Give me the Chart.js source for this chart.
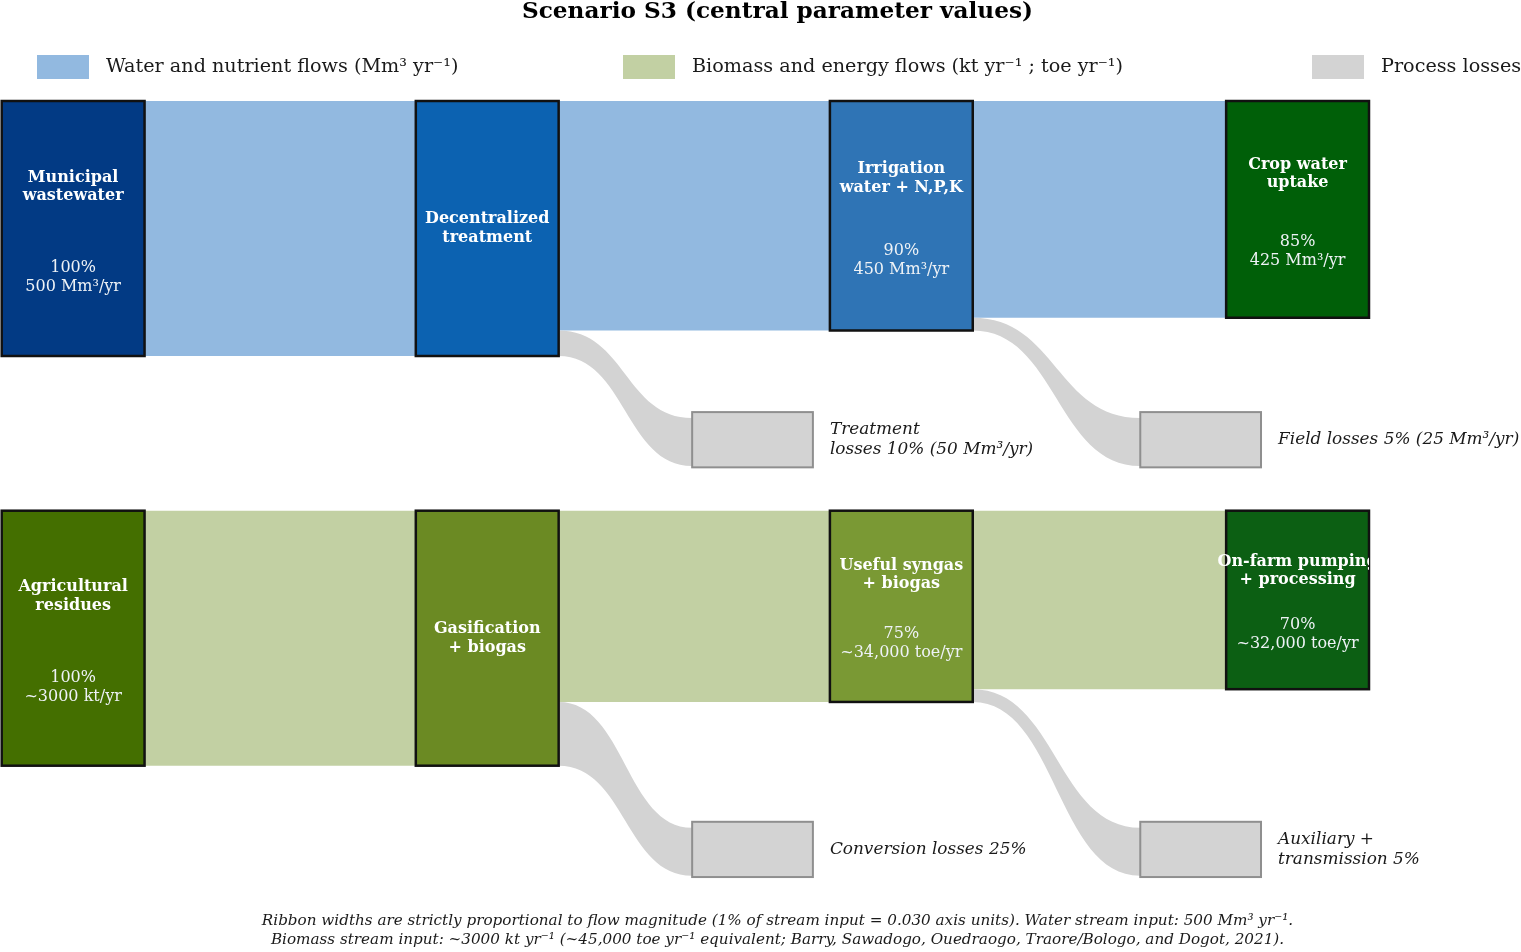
<!DOCTYPE html>
<html>
<head>
<meta charset="utf-8">
<title>Scenario S3 (central parameter values)</title>
<script src="https://cdn.jsdelivr.net/npm/chart.js@4.4.0/dist/chart.umd.min.js"></script>
<style>
  html, body { margin: 0; padding: 0; background: #ffffff; }
  #wrap { width: 1521px; height: 952px; }
</style>
</head>
<body>
<div id="wrap"><canvas id="chart" width="1521" height="952"></canvas></div>
<script>
// Texts and values
const titleText = 'Scenario S3 (central parameter values)';
const legendLabels = [
  'Water and nutrient flows (Mm³ yr⁻¹)',
  'Biomass and energy flows (kt yr⁻¹ ; toe yr⁻¹)',
  'Process losses'
];

// water stream (top row)
const waterLabels = ['Municipal\nwastewater', 'Decentralized\ntreatment', 'Irrigation\nwater + N,P,K', 'Crop water\nuptake'];
const waterPct = [100, 100, 90, 85];
const waterAmounts = ['500 Mm³/yr', null, '450 Mm³/yr', '425 Mm³/yr'];
const waterLossLabels = ['Treatment\nlosses 10% (50 Mm³/yr)', 'Field losses 5% (25 Mm³/yr)'];

// biomass stream (bottom row)
const biomassLabels = ['Agricultural\nresidues', 'Gasification\n+ biogas', 'Useful syngas\n+ biogas', 'On-farm pumping\n+ processing'];
const biomassPct = [100, 100, 75, 70];
const biomassAmounts = ['~3000 kt/yr', null, '~34,000 toe/yr', '~32,000 toe/yr'];
const biomassLossLabels = ['Conversion losses 25%', 'Auxiliary +\ntransmission 5%'];

const footnoteLines = [
  'Ribbon widths are strictly proportional to flow magnitude (1% of stream input = 0.030 axis units). Water stream input: 500 Mm³ yr⁻¹.',
  'Biomass stream input: ~3000 kt yr⁻¹ (~45,000 toe yr⁻¹ equivalent; Barry, Sawadogo, Ouedraogo, Traore/Bologo, and Dogot, 2021).'
];

// 1% of stream input in axis units
const PCT_UNIT = 0.030;

// layout in axis units (y grows downwards)
const layout = {
  colX: [0, 4.87, 9.74, 14.40],
  nodeW: 1.68,
  rowTop: [0, 4.82],
  lossX: [8.12, 13.39],
  lossW: 1.42,
  lossTop: 3.66,
  lossH: 0.65,
  lossInTop: 0.07,
  lossInBottom: 0.635
};

const rows = [
  {
    labels: waterLabels, pct: waterPct, amounts: waterAmounts, losses: waterLossLabels,
    nodeColors: ['#023a84', '#0c62b1', '#2f74b5', '#005f08'],
    flowColor: '#92b9e0'
  },
  {
    labels: biomassLabels, pct: biomassPct, amounts: biomassAmounts, losses: biomassLossLabels,
    nodeColors: ['#446f00', '#6b8a23', '#7a9934', '#0c5f13'],
    flowColor: '#c2d0a3'
  }
];

const lossColor = '#d3d3d3';
const lossEdge = '#8f8f8f';
const legendColors = ['#92b9e0', '#c2d0a3', '#d3d3d3'];
const legendX = [37, 623, 1312];

const SERIF = '"DejaVu Serif", "Liberation Serif", serif';

function drawLines(ctx, text, x, yMid, lineH) {
  const lines = text.split('\n');
  const y0 = yMid - (lines.length - 1) * lineH / 2;
  lines.forEach((ln, i) => ctx.fillText(ln, x, y0 + i * lineH));
}

// sigmoid ribbon between two vertical edges
function ribbon(ctx, x0, y0a, y0b, x1, y1a, y1b, color) {
  const xm = (x0 + x1) / 2;
  ctx.beginPath();
  ctx.moveTo(x0, y0a);
  ctx.bezierCurveTo(xm, y0a, xm, y1a, x1, y1a);
  ctx.lineTo(x1, y1b);
  ctx.bezierCurveTo(xm, y1b, xm, y0b, x0, y0b);
  ctx.closePath();
  ctx.fillStyle = color;
  ctx.fill();
}

const sankeyPlugin = {
  id: 'sankey',
  afterDraw(chart) {
    const ctx = chart.ctx;
    const xs = chart.scales.x;
    const ys = chart.scales.y;
    const X = v => xs.getPixelForValue(v);
    const Y = v => ys.getPixelForValue(v);
    const area = chart.chartArea;

    ctx.save();

    rows.forEach((row, r) => {
      const top = layout.rowTop[r];
      const n = row.pct.length;

      // main flows
      for (let i = 0; i < n - 1; i++) {
        const x0 = X(layout.colX[i] + layout.nodeW);
        const x1 = X(layout.colX[i + 1]);
        const h = row.pct[i + 1] * PCT_UNIT;
        ribbon(ctx, x0, Y(top), Y(top + h), x1, Y(top), Y(top + h), row.flowColor);
      }

      // loss flows
      let k = 0;
      for (let i = 1; i < n - 1; i++) {
        if (row.pct[i] <= row.pct[i + 1]) continue;
        const x0 = X(layout.colX[i] + layout.nodeW);
        const x1 = X(layout.lossX[k]);
        const bt = top + layout.lossTop;
        ribbon(ctx, x0, Y(top + row.pct[i + 1] * PCT_UNIT), Y(top + row.pct[i] * PCT_UNIT),
          x1, Y(bt + layout.lossInTop), Y(bt + layout.lossInBottom), lossColor);
        k++;
      }

      // loss boxes + labels
      row.losses.forEach((txt, j) => {
        const bx0 = X(layout.lossX[j]);
        const bx1 = X(layout.lossX[j] + layout.lossW);
        const by0 = Y(top + layout.lossTop);
        const by1 = Y(top + layout.lossTop + layout.lossH);
        ctx.fillStyle = lossColor;
        ctx.fillRect(bx0, by0, bx1 - bx0, by1 - by0);
        ctx.lineWidth = 2;
        ctx.strokeStyle = lossEdge;
        ctx.strokeRect(bx0, by0, bx1 - bx0, by1 - by0);

        ctx.fillStyle = '#1a1a1a';
        ctx.font = 'italic 16.9px ' + SERIF;
        ctx.textAlign = 'left';
        ctx.textBaseline = 'middle';
        drawLines(ctx, txt, bx1 + 17, (by0 + by1) / 2, 20);
      });

      // nodes
      for (let i = 0; i < n; i++) {
        const h = row.pct[i] * PCT_UNIT;
        const nx0 = X(layout.colX[i]);
        const nx1 = X(layout.colX[i] + layout.nodeW);
        const ny0 = Y(top);
        const ny1 = Y(top + h);
        ctx.fillStyle = row.nodeColors[i];
        ctx.fillRect(nx0, ny0, nx1 - nx0, ny1 - ny0);
        ctx.lineWidth = 2.5;
        ctx.strokeStyle = '#111111';
        ctx.strokeRect(nx0, ny0, nx1 - nx0, ny1 - ny0);
      }

      // node texts, clipped at the plot's right edge
      ctx.save();
      ctx.beginPath();
      ctx.rect(0, 0, area.right, chart.height);
      ctx.clip();
      ctx.textAlign = 'center';
      ctx.textBaseline = 'middle';
      for (let i = 0; i < n; i++) {
        const h = row.pct[i] * PCT_UNIT;
        const cx = X(layout.colX[i] + layout.nodeW / 2);
        ctx.fillStyle = '#ffffff';
        ctx.font = 'bold 16px ' + SERIF;
        if (row.amounts[i]) {
          drawLines(ctx, row.labels[i], cx, Y(top + h * 0.336), 18.5);
          ctx.fillStyle = '#eef2f6';
          ctx.font = '16px ' + SERIF;
          drawLines(ctx, row.pct[i] + '%\n' + row.amounts[i], cx, Y(top + h * 0.693), 19);
        } else {
          drawLines(ctx, row.labels[i], cx, Y(top + h / 2), 18.5);
        }
      }
      ctx.restore();
    });

    // title
    ctx.fillStyle = '#000000';
    ctx.textAlign = 'center';
    ctx.textBaseline = 'middle';
    ctx.font = 'bold 23.2px ' + SERIF;
    ctx.fillText(titleText, 777.5, 12);

    // legend
    ctx.font = '19.2px ' + SERIF;
    ctx.textAlign = 'left';
    legendLabels.forEach((lab, i) => {
      ctx.fillStyle = legendColors[i];
      ctx.fillRect(legendX[i], 55, 52, 24);
      ctx.fillStyle = '#1a1a1a';
      ctx.fillText(lab, legendX[i] + 69, 67);
    });

    // footnote
    ctx.font = 'italic 15.2px ' + SERIF;
    ctx.textAlign = 'center';
    footnoteLines.forEach((ln, i) => ctx.fillText(ln, 777.5, 921 + i * 19));

    ctx.restore();
  }
};

const chart = new Chart(document.getElementById('chart'), {
  type: 'scatter',
  data: { datasets: [] },
  options: {
    responsive: false,
    animation: false,
    devicePixelRatio: 1,
    layout: { padding: { left: 0, right: 152, top: 101, bottom: 69 } },
    scales: {
      x: { type: 'linear', min: -0.02, max: 16.08, display: false },
      y: { type: 'linear', min: 0, max: 9.2, reverse: true, display: false }
    },
    plugins: {
      legend: { display: false },
      title: { display: false },
      tooltip: { enabled: false }
    }
  },
  plugins: [sankeyPlugin]
});
</script>
</body>
</html>
